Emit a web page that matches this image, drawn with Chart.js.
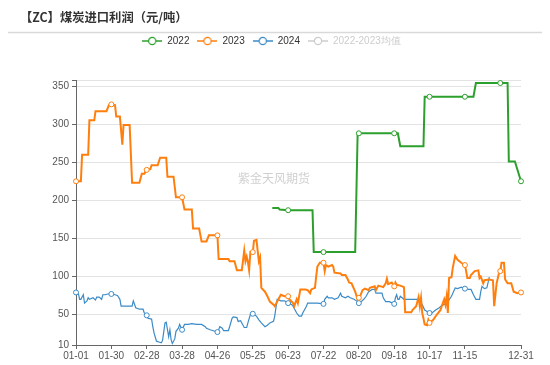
<!DOCTYPE html>
<html>
<head>
<meta charset="utf-8">
<script src="https://cdn.jsdelivr.net/npm/chart.js@4.4.1/dist/chart.umd.min.js"></script>
<style>
    html, body { margin: 0; padding: 0; background: #fff; }
</style>
</head>
<body>
<canvas id="profitChart" width="550" height="365"></canvas>
<script>
const chartTitle = '【ZC】煤炭进口利润（元/吨）';
const watermarkText = '紫金天风期货';
const seriesNames = ['2022', '2023', '2024', '2022-2023均值'];
const seriesColors = ['#2ca02c', '#ff7f0e', '#3b8bc8', '#cccccc'];

const tickLabels = ['01-01', '01-30', '02-28', '03-28', '04-26', '05-25', '06-23',
    '07-22', '08-20', '09-18', '10-17', '11-15', '12-31'];
const markerDays = [...tickLabels, '12-14'];
const yTickValues = [10, 50, 100, 150, 200, 250, 300, 350];
const yMin = 10;
const yMax = 358;

const dates2022 = ['06-10', '06-15', '06-16', '06-23', '07-13', '07-14', '07-22', '08-17', '08-19', '08-20',
    '09-18', '09-21', '09-23', '10-12', '10-13', '10-17', '11-15', '11-22', '11-24', '12-14',
    '12-20', '12-21', '12-26', '12-31'];
const values2022 = [190, 190, 188, 187, 187, 132, 132, 132, 288, 288,
    288, 288, 271, 271, 336, 336, 336, 336, 354, 354,
    354, 251, 251, 225];

const dates2023 = ['01-01', '01-05', '01-06', '01-11', '01-12', '01-16', '01-17', '01-26', '01-27', '01-28',
    '01-30', '02-02', '02-03', '02-06', '02-08', '02-09', '02-14', '02-16', '02-22', '02-24',
    '02-26', '02-28', '03-02', '03-03', '03-08', '03-10', '03-15', '03-16', '03-21', '03-23',
    '03-28', '03-30', '04-05', '04-06', '04-11', '04-13', '04-17', '04-19', '04-26', '04-27',
    '05-05', '05-06', '05-10', '05-12', '05-16', '05-18', '05-19', '05-20', '05-21', '05-22',
    '05-23', '05-25', '05-26', '05-28', '05-30', '05-31', '06-01', '06-04', '06-06', '06-08',
    '06-11', '06-12', '06-15', '06-17', '06-20', '06-23', '06-24', '06-27', '06-28', '06-30',
    '07-01', '07-03', '07-07', '07-09', '07-11', '07-12', '07-15', '07-16', '07-17', '07-19',
    '07-22', '07-23', '07-24', '07-26', '07-29', '07-30', '07-31', '08-05', '08-06', '08-09',
    '08-11', '08-12', '08-14', '08-17', '08-19', '08-20', '08-21', '08-23', '08-25', '08-28',
    '08-29', '09-02', '09-03', '09-05', '09-09', '09-11', '09-12', '09-13', '09-16', '09-18',
    '09-19', '09-20', '09-23', '09-26', '09-27', '10-02', '10-03', '10-06', '10-08', '10-09',
    '10-10', '10-11', '10-12', '10-13', '10-15', '10-16', '10-17', '10-20', '10-23', '10-26',
    '10-27', '10-29', '10-30', '10-31', '11-01', '11-02', '11-04', '11-05', '11-07', '11-09',
    '11-12', '11-15', '11-16', '11-17', '11-19', '11-20', '11-23', '11-26', '11-27', '11-28',
    '11-30', '12-01', '12-05', '12-08', '12-09', '12-11', '12-13', '12-14', '12-15', '12-17',
    '12-18', '12-20', '12-23', '12-25', '12-28', '12-31'];
const values2023 = [225, 225, 260, 260, 305, 305, 317, 317, 321, 325,
    326, 325, 310, 310, 273, 299, 299, 223, 223, 235,
    235, 240, 241, 246, 246, 256, 256, 231, 231, 204,
    204, 188, 188, 163, 163, 146, 146, 154, 154, 123,
    123, 120, 120, 108, 108, 134, 120, 126, 119, 108,
    132, 132, 147, 148, 120, 125, 85, 80, 74, 67,
    63, 61, 70, 76, 74, 74, 70, 65, 61, 70,
    65, 83, 83, 82, 78, 83, 85, 100, 113, 118,
    118, 107, 115, 113, 115, 113, 105, 104, 102, 102,
    96, 92, 91, 80, 70, 72, 74, 82, 84, 82,
    85, 87, 82, 88, 86, 91, 97, 90, 92, 87,
    92, 89, 88, 86, 53, 53, 56, 61, 73, 61,
    72, 52, 45, 37, 36, 43, 39, 43, 50, 56,
    61, 70, 63, 74, 52, 98, 99, 111, 127, 122,
    118, 115, 107, 98, 98, 102, 107, 108, 98, 100,
    91, 95, 96, 95, 61, 91, 105, 107, 118, 118,
    96, 91, 91, 80, 78, 79];

const dates2024 = ['01-01', '01-03', '01-04', '01-05', '01-07', '01-08', '01-10', '01-11', '01-12', '01-15',
    '01-17', '01-18', '01-20', '01-22', '01-23', '01-25', '01-27', '01-30', '02-02', '02-04',
    '02-06', '02-07', '02-16', '02-17', '02-19', '02-22', '02-25', '02-26', '02-28', '02-29',
    '03-03', '03-04', '03-05', '03-07', '03-09', '03-11', '03-12', '03-14', '03-15', '03-17',
    '03-18', '03-19', '03-20', '03-22', '03-23', '03-25', '03-26', '03-28', '03-30', '04-02',
    '04-05', '04-09', '04-13', '04-16', '04-17', '04-20', '04-22', '04-26', '04-27', '04-28',
    '04-30', '05-01', '05-05', '05-06', '05-08', '05-09', '05-12', '05-13', '05-15', '05-16',
    '05-18', '05-20', '05-21', '05-23', '05-25', '05-28', '05-30', '06-01', '06-04', '06-06',
    '06-08', '06-11', '06-12', '06-14', '06-17', '06-20', '06-23', '06-26', '06-27', '06-30',
    '07-02', '07-04', '07-05', '07-08', '07-09', '07-13', '07-17', '07-22', '07-23', '07-25',
    '07-26', '07-29', '07-31', '08-03', '08-05', '08-06', '08-09', '08-11', '08-13', '08-16',
    '08-19', '08-20', '08-22', '08-24', '08-26', '08-28', '08-31', '09-02', '09-03', '09-08',
    '09-09', '09-11', '09-14', '09-18', '09-19', '09-20', '09-21', '09-22', '09-23', '09-26',
    '10-07', '10-09', '10-11', '10-13', '10-17', '10-19', '10-22', '10-25', '10-27', '10-30',
    '11-01', '11-04', '11-07', '11-09', '11-12', '11-15', '11-18', '11-20', '11-22', '11-24',
    '11-27', '11-28', '11-29', '12-01', '12-03', '12-05'];
const values2024 = [79, 77, 70, 70, 76, 65, 68, 72, 70, 72,
    69, 73, 73, 70, 76, 76, 77, 77, 76, 75,
    70, 61, 61, 68, 59, 57, 57, 52, 49, 45,
    44, 34, 26, 15, 14, 13, 16, 39, 40, 21,
    30, 17, 12, 18, 28, 32, 37, 30, 37, 37,
    38, 37, 37, 34, 32, 30, 29, 27, 30, 34,
    32, 29, 29, 34, 45, 47, 46, 41, 42, 39,
    33, 33, 39, 50, 51, 48, 43, 39, 34, 36,
    39, 41, 48, 70, 68, 68, 65, 63, 61, 52,
    48, 48, 52, 61, 65, 65, 65, 64, 70, 74,
    72, 72, 70, 72, 78, 74, 72, 74, 72, 70,
    67, 65, 67, 70, 74, 80, 83, 83, 78, 78,
    72, 67, 67, 64, 72, 76, 70, 70, 74, 70,
    70, 67, 63, 56, 52, 52, 56, 59, 62, 64,
    67, 74, 85, 84, 86, 84, 83, 83, 76, 70,
    70, 80, 87, 84, 85, 99];

// 2024 calendar days as categories (MM-DD)
const days = [];
for (let d = new Date(2024, 0, 1); d.getFullYear() === 2024; d.setDate(d.getDate() + 1)) {
    days.push(String(d.getMonth() + 1).padStart(2, '0') + '-' + String(d.getDate()).padStart(2, '0'));
}

function toPoints(dates, values) {
    return dates.map((d, i) => ({ x: d, y: values[i] }));
}

function legendIcon(color) {
    const c = document.createElement('canvas');
    c.width = 20;
    c.height = 10;
    const g = c.getContext('2d');
    g.strokeStyle = color;
    g.lineWidth = 1.5;
    g.beginPath();
    g.moveTo(0, 5);
    g.lineTo(20, 5);
    g.stroke();
    g.beginPath();
    g.arc(10, 5, 3.6, 0, Math.PI * 2);
    g.fillStyle = '#fff';
    g.fill();
    g.lineWidth = 1.2;
    g.stroke();
    return c;
}
const legendIcons = seriesColors.map(legendIcon);

const markerRadius = ctx => (ctx.raw && markerDays.includes(ctx.raw.x) ? 2.5 : 0);

function lineDataset(i, points, width) {
    return {
        label: seriesNames[i],
        data: points,
        borderColor: seriesColors[i],
        backgroundColor: seriesColors[i],
        borderWidth: width,
        pointRadius: markerRadius,
        pointHoverRadius: markerRadius,
        pointBackgroundColor: '#fff',
        pointBorderColor: seriesColors[i],
        pointBorderWidth: 1,
        tension: 0
    };
}

const decorPlugin = {
    id: 'decor',
    beforeInit(chart) {
        const fit = chart.legend.fit;
        chart.legend.fit = function () {
            fit.call(this);
            this.height += 24;
        };
    },
    afterLayout(chart) {
        // legend sits a little right of the plot centre
        chart.legend.left += 11;
        chart.legend.right += 11;
    },
    beforeDatasetsDraw(chart) {
        const ctx = chart.ctx;
        ctx.save();
        ctx.font = '12px "Noto Sans CJK SC"';
        ctx.fillStyle = '#d0d0d0';
        ctx.textAlign = 'center';
        ctx.textBaseline = 'middle';
        ctx.fillText(watermarkText, 274, 178);
        ctx.restore();
    },
    afterDraw(chart) {
        const ctx = chart.ctx;
        ctx.save();
        ctx.font = 'bold 12.3px "Noto Sans CJK SC"';
        ctx.fillStyle = '#333';
        ctx.textBaseline = 'middle';
        ctx.fillText(chartTitle, 20, 17);
        ctx.strokeStyle = '#d9d9d9';
        ctx.lineWidth = 1.5;
        ctx.beginPath();
        ctx.moveTo(8, 32.5);
        ctx.lineTo(542, 32.5);
        ctx.stroke();
        ctx.restore();
    }
};

new Chart(document.getElementById('profitChart'), {
    type: 'line',
    data: {
        labels: days,
        datasets: [
            lineDataset(0, toPoints(dates2022, values2022), 2),
            lineDataset(1, toPoints(dates2023, values2023), 2),
            lineDataset(2, toPoints(dates2024, values2024), 1.2),
            Object.assign(lineDataset(3, [], 2), { hidden: true })
        ]
    },
    options: {
        responsive: false,
        animation: false,
        layout: { padding: { top: 28, right: 29, bottom: 0, left: 0 } },
        plugins: {
            tooltip: { enabled: false },
            legend: {
                position: 'top',
                align: 'center',
                labels: {
                    usePointStyle: true,
                    pointStyleWidth: 20,
                    boxHeight: 10,
                    padding: 8,
                    color: '#333',
                    font: { size: 10, family: '"Liberation Sans", Arial, sans-serif' },
                    generateLabels(chart) {
                        const items = Chart.defaults.plugins.legend.labels.generateLabels(chart);
                        items.forEach((item, i) => {
                            item.pointStyle = legendIcons[i];
                            if (i === 3) {
                                item.hidden = false;
                                item.fontColor = '#cccccc';
                            }
                        });
                        return items;
                    }
                }
            }
        },
        scales: {
            x: {
                type: 'category',
                offset: false,
                afterFit(scale) { scale.height = 20; },
                afterBuildTicks(scale) {
                    scale.ticks = tickLabels.map(l => ({ value: days.indexOf(l) }));
                },
                grid: { display: true, drawOnChartArea: false, tickLength: 4, tickColor: '#666' },
                border: { color: '#666' },
                ticks: {
                    autoSkip: false,
                    maxRotation: 0,
                    padding: 1,
                    color: '#555',
                    font: { size: 10, family: '"Liberation Sans", Arial, sans-serif' },
                    callback(value) { return this.getLabelForValue(value); }
                }
            },
            y: {
                type: 'linear',
                min: yMin,
                max: yMax,
                afterFit(scale) { scale.width = 76; },
                afterBuildTicks(scale) {
                    scale.ticks = [...yTickValues, yMax].map(v => ({ value: v }));
                },
                grid: { color: '#e3e3e3', tickLength: 4, tickColor: '#666' },
                border: { color: '#666' },
                ticks: {
                    padding: 3,
                    color: '#555',
                    font: { size: 10, family: '"Liberation Sans", Arial, sans-serif' },
                    callback: v => (yTickValues.includes(v) ? v : '')
                }
            }
        }
    },
    plugins: [decorPlugin]
});
</script>
</body>
</html>
